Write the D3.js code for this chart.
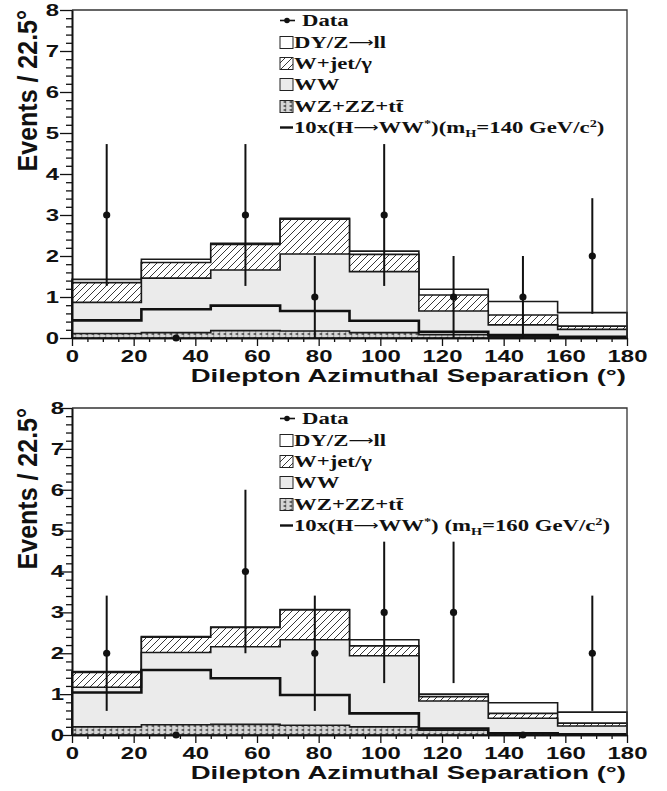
<!DOCTYPE html>
<html><head><meta charset="utf-8">
<script src="https://cdn.jsdelivr.net/npm/d3@7"></script>
<style>body{margin:0;background:#fff}</style>
</head><body><svg id="c" width="667" height="791"></svg>
<script>
// ---------- data ----------
const binEdges = [0, 22.5, 45, 67.5, 90, 112.5, 135, 157.5, 180];
const xTicks = [0, 20, 40, 60, 80, 100, 120, 140, 160, 180];
const yTicks = [0, 1, 2, 3, 4, 5, 6, 7, 8];

// mH = 140 panel (component values per bin)
const wz140   = [0.11, 0.13, 0.18, 0.17, 0.13, 0.08, 0.04, 0.02];
const ww140   = [0.76, 1.33, 1.48, 1.88, 1.49, 0.58, 0.28, 0.19];
const wjet140 = [0.48, 0.38, 0.62, 0.85, 0.42, 0.39, 0.24, 0.08];
const dy140   = [0.08, 0.08, 0.03, 0.02, 0.08, 0.14, 0.33, 0.33];
const higgs140 = [0.43, 0.70, 0.79, 0.66, 0.42, 0.15, 0.07, 0.03];
const data140  = [3, 0, 3, 1, 3, 1, 1, 2];
const err140   = [1.73, 0, 1.73, 1, 1.73, 1, 1, 1.41];

// mH = 160 panel
const wz160   = [0.20, 0.25, 0.26, 0.24, 0.20, 0.12, 0.05, 0.03];
const ww160   = [0.97, 1.77, 1.90, 2.09, 1.74, 0.71, 0.36, 0.19];
const wjet160 = [0.36, 0.37, 0.47, 0.73, 0.24, 0.11, 0.12, 0.07];
const dy160   = [0.02, 0.02, 0.01, 0.01, 0.15, 0.06, 0.26, 0.27];
const higgs160 = [1.04, 1.59, 1.39, 0.98, 0.53, 0.16, 0.04, 0.02];
const data160  = [2, 0, 4, 2, 3, 3, 0, 2];
const err160   = [1.41, 0, 2, 1.41, 1.73, 1.73, 0, 1.41];

const legendLabels = [
  [["Data",""]],
  [["DY/Z",""],["\u27F6","arrow"],["ll",""]],
  [["W+jet/\u03b3",""]],
  [["WW",""]],
  [["WZ+ZZ+tt\u0304",""]]
];
const higgsLabel140 = [["10x(H",""],["\u27F6","arrow"],["WW",""],["*","sup"],[")(m",""],["H","sub"],["=140 GeV/c",""],["2","sup"],[")",""]];
const higgsLabel160 = [["10x(H",""],["\u27F6","arrow"],["WW",""],["*","sup"],[") (m",""],["H","sub"],["=160 GeV/c",""],["2","sup"],[")",""]];

const yTitle = "Events / 22.5\u00b0";
const xTitle = "Dilepton Azimuthal Separation (\u00b0)";

// ---------- drawing ----------
const svg = d3.select('#c');
const defs = svg.append('defs');
const hp = defs.append('pattern').attr('id','hatch').attr('patternUnits','userSpaceOnUse').attr('width',7).attr('height',7);
hp.append('rect').attr('width',7).attr('height',7).attr('fill','#fff');
hp.append('path').attr('d','M-1,8 L8,-1 M-1,1 L1,-1 M6,8 L8,6').attr('stroke','#222').attr('stroke-width',0.9);
const dp = defs.append('pattern').attr('id','dots').attr('patternUnits','userSpaceOnUse').attr('width',6).attr('height',4);
dp.append('rect').attr('width',6).attr('height',4).attr('fill','#d6d6d6');
dp.append('path').attr('d','M0.8,2 L4.2,0.2 L4.2,3.8 Z').attr('fill','#555');

const panels = [
  {top:10, bottom:338, labelEnd:59, wz:wz140, ww:ww140, wjet:wjet140, dy:dy140, higgs:higgs140, data:data140, err:err140, hl:higgsLabel140},
  {top:408, bottom:735, labelEnd:64, wz:wz160, ww:ww160, wjet:wjet160, dy:dy160, higgs:higgs160, data:data160, err:err160, hl:higgsLabel160}
];
const left = 72, right = 627;
const sansBold = "'Liberation Sans', Arial, sans-serif";
const serif = "'Liberation Serif', 'Times New Roman', serif";
const SX = 1.45;   // horizontal stretch of sans text
const LX = 1.3;    // horizontal stretch of legend text

function richText(sel, parts){
  let shift = 0;
  parts.forEach(([s,mode])=>{
    const target = mode==='sup' ? -6 : mode==='sub' ? 4 : mode==='arrow' ? -1 : 0;
    const ts = sel.append('tspan').attr('dy',target-shift).text(s);
    if (mode==='sup' || mode==='sub') ts.attr('font-size',11);
    if (mode==='arrow') ts.attr('font-family',"'DejaVu Sans', sans-serif").attr('font-weight','normal').attr('font-size',13.5);
    shift = target;
  });
}

panels.forEach(p => {
  const g = svg.append('g');
  const x = d3.scaleLinear().domain([0,180]).range([left,right]);
  const y = d3.scaleLinear().domain([0,8]).range([p.bottom,p.top]);

  const c1 = p.wz.slice();
  const c2 = c1.map((v,i)=>v+p.ww[i]);
  const c3 = c2.map((v,i)=>v+p.wjet[i]);
  const c4 = c3.map((v,i)=>v+p.dy[i]);
  const ext = a => a.concat([a[a.length-1]]);
  const area = d3.area().curve(d3.curveStepAfter).x((d,i)=>x(binEdges[i])).y0(y(0)).y1(d=>y(d));
  const line = d3.line().curve(d3.curveStepAfter).x((d,i)=>x(binEdges[i])).y(d=>y(d));

  [[c4,'#fff'],[c3,'url(#hatch)'],[c2,'#ebebeb'],[c1,'url(#dots)']].forEach(([vals,fill])=>{
    g.append('path').attr('d',area(ext(vals))).attr('fill',fill).attr('stroke','#1a1a1a').attr('stroke-width',1.6);
  });
  g.append('path').attr('d',line(ext(p.higgs))).attr('fill','none').attr('stroke','#111').attr('stroke-width',2.6);

  // data
  p.data.forEach((v,i)=>{
    const cx = x((binEdges[i]+binEdges[i+1])/2);
    if (p.err[i]>0) g.append('line').attr('x1',cx).attr('x2',cx).attr('y1',y(v-p.err[i])).attr('y2',y(v+p.err[i])).attr('stroke','#111').attr('stroke-width',2);
    g.append('circle').attr('cx',cx).attr('cy',y(v)).attr('r',3.6).attr('fill','#111');
  });

  // frame
  g.append('path').attr('d',`M${left},${p.top}H${right}V${p.bottom}`).attr('fill','none').attr('stroke','#333').attr('stroke-width',1.3);

  // axes
  const yMinor = d3.range(0,8.001,0.2).filter(v=>Math.abs(v-Math.round(v))>1e-6);
  const xMinor = d3.range(0,180.1,5).filter(v=>v%20!==0);
  const ax = g.append('g').attr('transform',`translate(${left},0)`);
  ax.call(d3.axisLeft(y).tickValues(yMinor).tickSize(6).tickSizeOuter(0).tickFormat(''));
  const axMaj = ax.append('g');
  axMaj.call(d3.axisLeft(y).tickValues(yTicks).tickSize(12).tickSizeOuter(0).tickFormat(d3.format('d')));
  axMaj.selectAll('.tick text').attr('x',-(left-p.labelEnd)/SX).attr('transform',`scale(${SX},1)`);
  const bx = g.append('g').attr('transform',`translate(0,${p.bottom})`);
  bx.call(d3.axisBottom(x).tickValues(xMinor).tickSize(4).tickSizeOuter(0).tickFormat(''));
  const bxMaj = bx.append('g');
  bxMaj.call(d3.axisBottom(x).tickValues(xTicks).tickSize(8).tickSizeOuter(0).tickPadding(4.3).tickFormat(d3.format('d')));
  bxMaj.selectAll('.tick text').attr('transform',`scale(${SX},1)`);
  g.selectAll('.domain').attr('stroke','#111').attr('stroke-width',1.6);
  g.selectAll('.tick line').attr('stroke','#111').attr('stroke-width',1.3);
  g.selectAll('.tick text').attr('font-family',sansBold).attr('font-weight','bold').attr('font-size',16.5).attr('fill','#111');

  // titles
  g.append('text').attr('transform',`translate(37,${p.top}) rotate(-90) scale(1,1.1)`).attr('text-anchor','end')
    .attr('font-family',sansBold).attr('font-weight','bold').attr('font-size',25).attr('fill','#111').text(yTitle);
  g.append('text').attr('transform',`translate(626,${p.bottom+44}) scale(${SX},1)`).attr('text-anchor','end')
    .attr('font-family',sansBold).attr('font-weight','bold').attr('font-size',19).attr('fill','#111').text(xTitle);

  // legend
  const lg = g.append('g').attr('font-family',serif).attr('font-weight','bold').attr('font-size',17.5).attr('fill','#111');
  const rowY = [16,38,59,80,102,123].map(d=>p.top+d);
  const sx = 280, sw = 13, tx = 294;
  // Data symbol
  lg.append('line').attr('x1',sx).attr('x2',sx+15).attr('y1',rowY[0]-5.5).attr('y2',rowY[0]-5.5).attr('stroke','#111').attr('stroke-width',1.6);
  lg.append('circle').attr('cx',sx+7).attr('cy',rowY[0]-5.5).attr('r',2.8).attr('fill','#111');
  const fills = ['#fff','url(#hatch)','#ebebeb','url(#dots)'];
  fills.forEach((f,k)=>{
    lg.append('rect').attr('x',sx).attr('y',rowY[k+1]-11.5).attr('width',sw).attr('height',12).attr('fill',f).attr('stroke','#222').attr('stroke-width',1);
  });
  legendLabels.forEach((parts,k)=>{
    const t = lg.append('text').attr('transform',`translate(${k===0?302:tx},${rowY[k]}) scale(${LX},1)`);
    richText(t, parts);
  });
  lg.append('line').attr('x1',sx).attr('x2',sx+sw).attr('y1',rowY[5]-5.5).attr('y2',rowY[5]-5.5).attr('stroke','#111').attr('stroke-width',2.4);
  const ht = lg.append('text').attr('transform',`translate(${tx},${rowY[5]}) scale(${LX},1)`);
  richText(ht, p.hl);
});
</script></body></html>
